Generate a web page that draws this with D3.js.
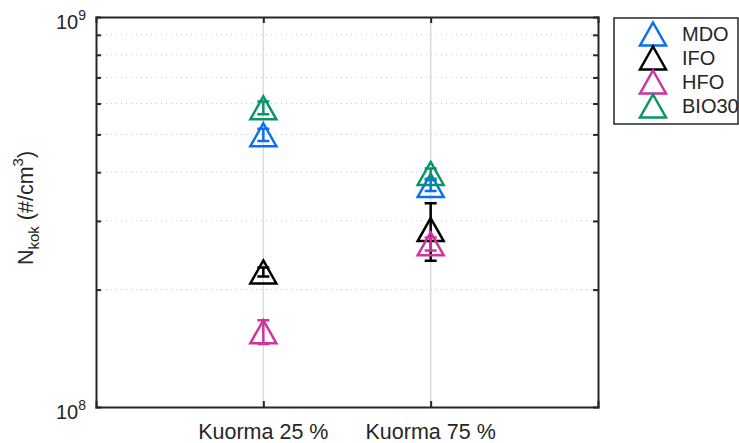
<!DOCTYPE html>
<html>
<head>
<meta charset="utf-8">
<script src="https://cdn.jsdelivr.net/npm/d3@7"></script>
<style>
  body { margin: 0; background: #fff; }
  text { font-family: "Liberation Sans", Arial, sans-serif; fill: #262626; }
</style>
</head>
<body>
<div id="chart"></div>
<script>
// Canvas size
var svgWidth = 739;
var svgHeight = 443;

// Margins for the plot box
var margin = { top: 17, right: 141, bottom: 36, left: 96 };
var width = svgWidth - margin.left - margin.right;
var height = svgHeight - margin.top - margin.bottom;

// Data
var categories = ["Kuorma 25 %", "Kuorma 75 %"];
var seriesNames = ["MDO", "IFO", "HFO", "BIO30"];
var seriesColors = ["#0b6ff2", "#000000", "#d0329e", "#0a9467"];
var mdoValues = [4.99e8, 3.70e8];
var mdoErrors = [0.18e8, 0.12e8];
var ifoValues = [2.22e8, 2.85e8];
var ifoErrors = [0.06e8, 0.48e8];
var hfoValues = [1.56e8, 2.62e8];
var hfoErrors = [0.11e8, 0.10e8];
var bioValues = [5.85e8, 3.97e8];
var bioErrors = [0.22e8, 0.12e8];
var yTickValues = [1e8, 1e9];
var minorTickValues = [2e8, 3e8, 4e8, 5e8, 6e8, 7e8, 8e8, 9e8];

var seriesValues = [mdoValues, ifoValues, hfoValues, bioValues];
var seriesErrors = [mdoErrors, ifoErrors, hfoErrors, bioErrors];

var svg = d3.select("#chart").append("svg")
  .attr("width", svgWidth)
  .attr("height", svgHeight);

var chartGroup = svg.append("g")
  .attr("transform", `translate(${margin.left}, ${margin.top})`);

// Scales
var xLinearScale = d3.scaleLinear()
  .domain([0, 3])
  .range([0, width]);

var yLogScale = d3.scaleLog()
  .domain([1e8, 1e9])
  .range([height, 0]);

// Minor grid (dotted)
chartGroup.selectAll(".ygrid")
  .data(minorTickValues)
  .enter()
  .append("line")
  .attr("x1", 0)
  .attr("x2", width)
  .attr("y1", d => yLogScale(d))
  .attr("y2", d => yLogScale(d))
  .attr("stroke", "#c8c8c8")
  .attr("stroke-width", 1)
  .attr("stroke-dasharray", "1,4");

// Category grid (solid light)
chartGroup.selectAll(".xgrid")
  .data(categories)
  .enter()
  .append("line")
  .attr("x1", (d, i) => xLinearScale(i + 1))
  .attr("x2", (d, i) => xLinearScale(i + 1))
  .attr("y1", 0)
  .attr("y2", height)
  .attr("stroke", "#dcdcdc")
  .attr("stroke-width", 1.5);

// Axes with ticks pointing inward
var leftAxis = d3.axisLeft(yLogScale).tickValues(minorTickValues).tickSize(-5).tickFormat("");
var rightAxis = d3.axisRight(yLogScale).tickValues(minorTickValues).tickSize(-5).tickFormat("");
var bottomAxis = d3.axisBottom(xLinearScale).tickValues([1, 2]).tickSize(-6).tickFormat("");
var topAxis = d3.axisTop(xLinearScale).tickValues([1, 2]).tickSize(-6).tickFormat("");

[
  [leftAxis, "translate(0,0)"],
  [rightAxis, `translate(${width},0)`],
  [bottomAxis, `translate(0,${height})`],
  [topAxis, "translate(0,0)"]
].forEach(function(a) {
  var g = chartGroup.append("g").attr("transform", a[1]).call(a[0]);
  g.select(".domain").attr("stroke", "#262626").attr("stroke-width", 2);
  g.selectAll(".tick line").attr("stroke", "#262626").attr("stroke-width", 2);
});

// Y labels 10^8, 10^9
yTickValues.forEach(function(v) {
  var t = chartGroup.append("text")
    .attr("x", -10)
    .attr("y", yLogScale(v) + 12)
    .attr("text-anchor", "end")
    .style("font-size", "20px");
  t.append("tspan").text("10");
  t.append("tspan").attr("dy", -9).style("font-size", "14px").text(Math.round(Math.log10(v)));
});

// X labels
chartGroup.selectAll(".xlabel")
  .data(categories)
  .enter()
  .append("text")
  .attr("x", (d, i) => xLinearScale(i + 1))
  .attr("y", height + 32)
  .attr("text-anchor", "middle")
  .style("font-size", "21.5px")
  .text(d => d);

// Y axis title
var yTitle = svg.append("text")
  .attr("transform", "translate(33, 208) rotate(-90)")
  .attr("text-anchor", "middle")
  .style("font-size", "21.5px");
yTitle.append("tspan").text("N");
yTitle.append("tspan").attr("dy", 6).style("font-size", "15px").text("kok");
yTitle.append("tspan").attr("dy", -6).text(" (#/cm");
yTitle.append("tspan").attr("dy", -10).style("font-size", "15px").text("3");
yTitle.append("tspan").attr("dy", 10).text(")");

// Triangle marker path centred on its point
var triW = 26, triH = 23;
function triangle(cx, cy) {
  return `M${cx},${cy - triH / 2} L${cx + triW / 2},${cy + triH / 2} L${cx - triW / 2},${cy + triH / 2} Z`;
}

// Error bars and markers, in legend order
seriesNames.forEach(function(name, s) {
  var color = seriesColors[s];
  var pts = seriesValues[s].map((v, i) => ({ i: i, v: v, e: seriesErrors[s][i] }));
  var grp = chartGroup.append("g");

  grp.selectAll(".err")
    .data(pts)
    .enter()
    .append("path")
    .attr("d", function(d) {
      var x = xLinearScale(d.i + 1);
      var y1 = yLogScale(d.v + d.e), y2 = yLogScale(d.v - d.e);
      return `M${x},${y1}V${y2}M${x - 6},${y1}H${x + 6}M${x - 6},${y2}H${x + 6}`;
    })
    .attr("fill", "none")
    .attr("stroke", color)
    .attr("stroke-width", 2.5);

  grp.selectAll(".mark")
    .data(pts)
    .enter()
    .append("path")
    .attr("d", d => triangle(xLinearScale(d.i + 1), yLogScale(d.v)))
    .attr("fill", "none")
    .attr("stroke", color)
    .attr("stroke-width", 2.5)
    .attr("stroke-linejoin", "miter");
});

// Legend
var legend = svg.append("g").attr("transform", "translate(614, 18)");
legend.append("rect")
  .attr("width", 124)
  .attr("height", 106)
  .attr("fill", "#fff")
  .attr("stroke", "#262626")
  .attr("stroke-width", 1.5);

seriesNames.forEach(function(name, s) {
  var y = 16 + s * 24;
  legend.append("path")
    .attr("d", triangle(39, y))
    .attr("fill", "none")
    .attr("stroke", seriesColors[s])
    .attr("stroke-width", 2.5);
  legend.append("text")
    .attr("x", 68)
    .attr("y", y + 7)
    .style("font-size", "20px")
    .text(name);
});
</script>
</body>
</html>
